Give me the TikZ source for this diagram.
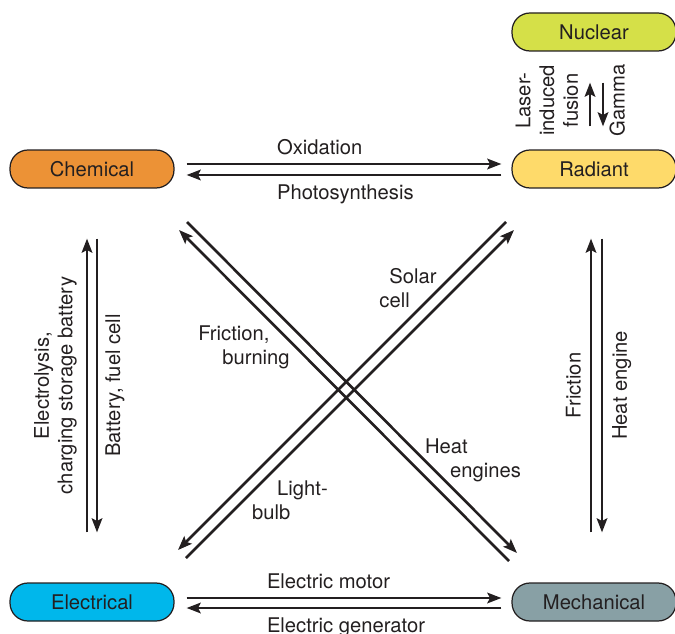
\documentclass[tikz,border=0pt]{standalone}
\usepackage{fontspec}
\setmainfont{TeX Gyre Heros}
\usetikzlibrary{arrows.meta}

\definecolor{chemcol}{RGB}{236,146,54}
\definecolor{radcol}{RGB}{254,218,106}
\definecolor{nuccol}{RGB}{213,224,72}
\definecolor{eleccol}{RGB}{0,183,235}
\definecolor{mechcol}{RGB}{136,160,165}
\definecolor{ink}{RGB}{35,31,32}

\tikzset{
  energy/.style={draw=ink, line width=0.7pt, rounded corners=0.36cm,
    minimum width=3.28cm, minimum height=0.76cm, inner sep=0pt, text=ink},
  flow/.style={draw=ink, line width=1.5pt,
    -{Stealth[length=8pt, width=6pt, inset=1.5pt]}},
  lbl/.style={text=ink, inner sep=2pt}
}

\begin{document}
\begin{tikzpicture}[x=0.02cm, y=-0.02cm, font=\fontsize{11.5}{13.5}\selectfont]
      \useasboundingbox (0,0) rectangle (675,634);
      \node[energy, fill=chemcol] (chem) at (92,169) {Chemical};
      \node[energy, fill=radcol] (rad) at (594,169) {Radiant};
      \node[energy, fill=nuccol] (nuc) at (594,32) {Nuclear};
      \node[energy, fill=eleccol] (elec) at (92,602) {Electrical};
      \node[energy, fill=mechcol] (mech) at (594,602) {Mechanical};
      % horizontal pairs
      \draw[flow, shorten <=0.24cm, shorten >=0.2cm] ([yshift=0.1cm]chem.east) -- node[lbl, pos=0.29, anchor=south west, inner ysep=4.5pt] {Oxidation} ([yshift=0.1cm]rad.west);
      \draw[flow, shorten <=0.2cm, shorten >=0.24cm] ([yshift=-0.12cm]rad.west) -- node[lbl, pos=0.71, anchor=north west, inner ysep=5pt] {Photosynthesis} ([yshift=-0.12cm]chem.east);
      \draw[flow, shorten <=0.24cm, shorten >=0.2cm] ([yshift=0.08cm]elec.east) -- node[lbl, pos=0.26, anchor=south west, inner ysep=4.5pt] {Electric motor} ([yshift=0.08cm]mech.west);
      \draw[flow, shorten <=0.2cm, shorten >=0.24cm] ([yshift=-0.12cm]mech.west) -- node[lbl, pos=0.74, anchor=north west, inner ysep=5pt] {Electric generator} ([yshift=-0.12cm]elec.east);
      % vertical pairs
      \draw[flow, shorten <=1cm, shorten >=1cm] ([xshift=-0.1cm]elec.north) -- node[lbl, midway, rotate=90, anchor=south, inner ysep=5pt, align=center] {Electrolysis,\\charging storage battery} ([xshift=-0.1cm]chem.south);
      \draw[flow, shorten <=1cm, shorten >=1cm] ([xshift=0.1cm]chem.south) -- node[lbl, midway, rotate=90, anchor=north, inner ysep=4pt] {Battery, fuel cell} ([xshift=0.1cm]elec.north);
      \draw[flow, shorten <=1cm, shorten >=1cm] ([xshift=-0.06cm]mech.north) -- node[lbl, midway, rotate=90, anchor=south, inner ysep=5pt] {Friction} ([xshift=-0.06cm]rad.south);
      \draw[flow, shorten <=1cm, shorten >=1cm] ([xshift=0.16cm]rad.south) -- node[lbl, midway, rotate=90, anchor=north, inner ysep=5pt] {Heat engine} ([xshift=0.16cm]mech.north);
      \draw[flow, shorten <=0.46cm, shorten >=0.62cm] ([xshift=-0.08cm]rad.north) -- node[lbl, midway, rotate=90, anchor=south, inner ysep=6pt, align=center] {Laser-\\induced\\fusion} ([xshift=-0.08cm]nuc.south);
      \draw[flow, shorten <=0.62cm, shorten >=0.46cm] ([xshift=0.18cm]nuc.south) -- node[lbl, midway, rotate=90, anchor=north, inner ysep=3pt] {Gamma} ([xshift=0.18cm]rad.north);
      % diagonal pairs
      \coordinate (cm1) at (183,226);
      \coordinate (cm2) at (513,557);
      \coordinate (er1) at (182,554);
      \coordinate (er2) at (510,226);
      \draw[flow] ([shift={(4,-4)}]cm1) -- ([shift={(4,-4)}]cm2);
      \draw[flow] ([shift={(-4,4)}]cm2) -- ([shift={(-4,4)}]cm1);
      \draw[flow] ([shift={(4,4)}]er1) -- ([shift={(4,4)}]er2);
      \draw[flow] ([shift={(-4,-4)}]er2) -- ([shift={(-4,-4)}]er1);
      \node[lbl, align=left] (fricl) at (244,347) {Friction,\\\hspace*{0.48cm}burning};
      \node[lbl, align=left] (heatl) at (473,460) {Heat\\\hspace*{0.5cm}engines};
      \node[lbl, align=left] (solarl) at (408,288) {\hspace*{0.2cm}Solar\\cell};
      \node[lbl, align=left] (lightl) at (290,500) {\hspace*{0.5cm}Light-\\bulb};
    \end{tikzpicture}
\end{document}
